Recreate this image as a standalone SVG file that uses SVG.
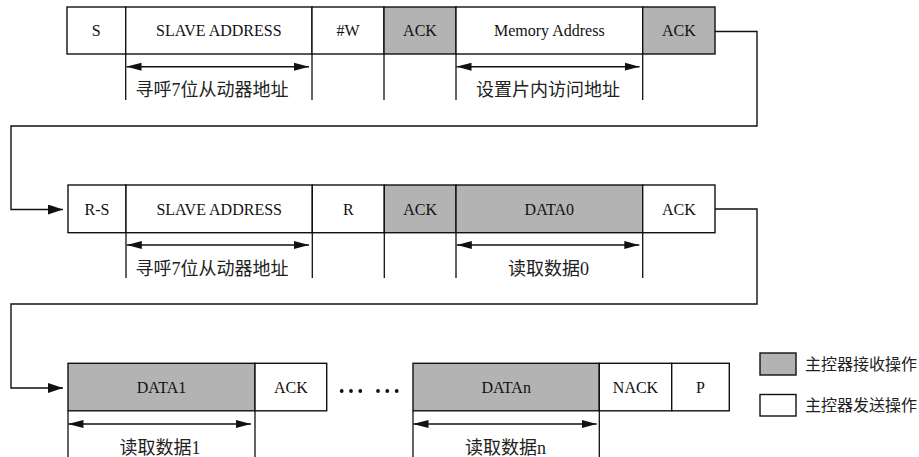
<svg xmlns="http://www.w3.org/2000/svg" width="919" height="457" viewBox="0 0 919 457">
<style>
.box{stroke:#111;stroke-width:1.4;}
.w{fill:#fff;}
.g{fill:#b3b3b3;}
.t{font-family:"Liberation Serif","Times New Roman",serif;font-size:16px;fill:#111;text-anchor:middle;}
.c{font-family:"Liberation Serif","Noto Sans CJK SC",serif;font-size:18px;fill:#222;text-anchor:middle;}
.lg{font-family:"Noto Sans CJK SC",sans-serif;font-size:16px;fill:#222;}
.ext{stroke:#111;stroke-width:1.3;fill:none;}
.dim{stroke:#111;stroke-width:1.5;fill:none;marker-start:url(#dh);marker-end:url(#dh);}
.conn{stroke:#111;stroke-width:1.4;fill:none;}
.dot{fill:#111;}
</style>
<defs>
<marker id="dh" markerUnits="userSpaceOnUse" markerWidth="15" markerHeight="9" viewBox="0 0 15 9" refX="15" refY="4.5" orient="auto-start-reverse">
<path d="M0,0.5 L15,4.5 L0,8.5 z" fill="#111"/>
</marker>
<marker id="ah" markerUnits="userSpaceOnUse" markerWidth="15" markerHeight="10" viewBox="0 0 15 10" refX="15" refY="5" orient="auto">
<path d="M0,0 L15,5 L0,10 z" fill="#111"/>
</marker>
</defs>

<rect width="919" height="457" fill="#fff"/>

<g id="connectors">
<polyline class="conn" points="715,31.5 757,31.5 757,126 11,126 11,209.5 63,209.5" marker-end="url(#ah)"/>
<polyline class="conn" points="715,209 757,209 757,304 11,304 11,388 63,388" marker-end="url(#ah)"/>
</g>

<!-- Row 1 -->
<g id="r1-s"><rect class="box w" x="67" y="7" width="58.7" height="47"/><text class="t" x="96.3" y="36">S</text></g>
<g id="r1-addr"><rect class="box w" x="125.7" y="7" width="186.3" height="47"/><text class="t" x="218.8" y="36">SLAVE ADDRESS</text></g>
<g id="r1-w"><rect class="box w" x="312" y="7" width="72" height="47"/><text class="t" x="348" y="36">#W</text></g>
<g id="r1-ack1"><rect class="box g" x="384" y="7" width="72" height="47"/><text class="t" x="420" y="36">ACK</text></g>
<g id="r1-mem"><rect class="box w" x="456" y="7" width="186.7" height="47"/><text class="t" x="549.3" y="36">Memory Address</text></g>
<g id="r1-ack2"><rect class="box g" x="642.7" y="7" width="72.3" height="47"/><text class="t" x="678.8" y="36">ACK</text></g>
<g id="r1-dims">
<path class="ext" d="M125.7,54V100M312,54V100M384,54V100M456,54V100M642.7,54V100"/>
<line class="dim" x1="126.5" y1="66.7" x2="309" y2="66.7"/>
<line class="dim" x1="456.5" y1="66.7" x2="639.5" y2="66.7"/>
<text class="c" x="212" y="96">寻呼7位从动器地址</text>
<text class="c" x="548" y="96">设置片内访问地址</text>
</g>

<!-- Row 2 -->
<g id="r2-rs"><rect class="box w" x="68" y="185" width="58" height="47.7"/><text class="t" x="97" y="215">R-S</text></g>
<g id="r2-addr"><rect class="box w" x="126" y="185" width="186.3" height="47.7"/><text class="t" x="219.2" y="215">SLAVE ADDRESS</text></g>
<g id="r2-r"><rect class="box w" x="312.3" y="185" width="72" height="47.7"/><text class="t" x="348.3" y="215">R</text></g>
<g id="r2-ack1"><rect class="box g" x="384.3" y="185" width="71.7" height="47.7"/><text class="t" x="420.2" y="215">ACK</text></g>
<g id="r2-data0"><rect class="box g" x="456" y="185" width="186.7" height="47.7"/><text class="t" x="549.3" y="215">DATA0</text></g>
<g id="r2-ack2"><rect class="box w" x="642.7" y="185" width="72.3" height="47.7"/><text class="t" x="678.8" y="215">ACK</text></g>
<g id="r2-dims">
<path class="ext" d="M126,232.7V278M312.3,232.7V278M384.3,232.7V278M456,232.7V278M642.7,232.7V278"/>
<line class="dim" x1="126.8" y1="245" x2="309" y2="245"/>
<line class="dim" x1="456.8" y1="245" x2="639.3" y2="245"/>
<text class="c" x="212" y="275">寻呼7位从动器地址</text>
<text class="c" x="548.5" y="275">读取数据0</text>
</g>

<!-- Row 3 -->
<g id="r3-data1"><rect class="box g" x="68" y="363.3" width="187" height="47.5"/><text class="t" x="161.5" y="393">DATA1</text></g>
<g id="r3-ack"><rect class="box w" x="255" y="363.3" width="71.7" height="47.5"/><text class="t" x="290.8" y="393">ACK</text></g>
<g id="r3-dots">
<circle class="dot" cx="341.7" cy="391" r="1.9"/><circle class="dot" cx="351" cy="391" r="1.9"/><circle class="dot" cx="360.3" cy="391" r="1.9"/>
<circle class="dot" cx="378" cy="391" r="1.9"/><circle class="dot" cx="387.3" cy="391" r="1.9"/><circle class="dot" cx="396.7" cy="391" r="1.9"/>
</g>
<g id="r3-datan"><rect class="box g" x="413" y="363.3" width="186.3" height="47.5"/><text class="t" x="506.2" y="393">DATAn</text></g>
<g id="r3-nack"><rect class="box w" x="599.3" y="363.3" width="72.4" height="47.5"/><text class="t" x="635.5" y="393">NACK</text></g>
<g id="r3-p"><rect class="box w" x="671.7" y="363.3" width="57.6" height="47.5"/><text class="t" x="700.5" y="393">P</text></g>
<g id="r3-dims">
<path class="ext" d="M68,410.8V457M255,410.8V457M413,410.8V457M599.3,410.8V457"/>
<line class="dim" x1="68.5" y1="424" x2="251" y2="424"/>
<line class="dim" x1="413.5" y1="424" x2="596.7" y2="424"/>
<text class="c" x="160" y="454">读取数据1</text>
<text class="c" x="505.5" y="454">读取数据n</text>
</g>

<!-- Legend -->
<g id="legend-recv"><rect class="box g" x="760" y="353" width="36" height="22"/><text class="lg" x="805" y="370">主控器接收操作</text></g>
<g id="legend-send"><rect class="box w" x="760" y="394.5" width="36" height="21.5"/><text class="lg" x="805" y="411">主控器发送操作</text></g>
</svg>
